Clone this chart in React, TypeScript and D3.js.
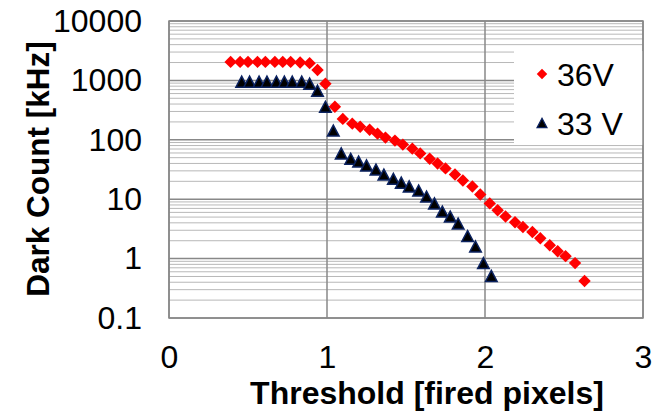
import React, { useEffect, useRef } from 'react';
import * as d3 from 'd3';

// 36V series
const thr36 = [0.39, 0.45, 0.50, 0.56, 0.61, 0.67, 0.72, 0.77, 0.83, 0.89, 0.94, 0.99, 1.05, 1.10, 1.16, 1.21, 1.27, 1.32, 1.37, 1.43, 1.48, 1.54, 1.59, 1.65, 1.70, 1.75, 1.81, 1.86, 1.92, 1.97, 2.03, 2.08, 2.13, 2.19, 2.24, 2.30, 2.35, 2.41, 2.46, 2.51, 2.57, 2.63];
const dc36 = [2050, 2050, 2050, 2050, 2050, 2050, 2050, 2050, 2000, 1950, 1500, 880, 360, 225, 187, 166, 148, 127, 109, 97, 83, 71, 59, 48, 40, 33, 26, 20.7, 16.4, 12, 8.5, 6.5, 5.1, 4.1, 3.4, 2.8, 2.2, 1.68, 1.33, 1.1, 0.84, 0.42];

// 33 V series
const thr33 = [0.46, 0.51, 0.57, 0.62, 0.68, 0.73, 0.78, 0.84, 0.89, 0.94, 0.99, 1.04, 1.09, 1.15, 1.20, 1.25, 1.31, 1.36, 1.42, 1.47, 1.52, 1.58, 1.63, 1.68, 1.73, 1.78, 1.83, 1.89, 1.94, 1.99, 2.04];
const dc33 = [950, 950, 950, 950, 950, 950, 950, 950, 880, 670, 360, 143, 59, 48, 43, 37, 31.6, 26, 22, 19, 16.4, 14, 11.1, 8.5, 6.2, 5.1, 3.9, 2.4, 1.6, 0.84, 0.51];

const xTicks = [0, 1, 2, 3];
const yTicks = [0.1, 1, 10, 100, 1000, 10000];
const seriesNames = ['36V', '33 V'];

const FONT = "'Liberation Sans', Arial, sans-serif";
const FS = 32;
const diamond = 'M0,-6.2L6.2,0L0,6.2L-6.2,0Z';
const triangle = 'M0,-5.5L5.8,5.5L-5.8,5.5Z';

const App: React.FC = () => {
  const svgRef = useRef<SVGSVGElement>(null);
  const width = 657;
  const height = 412;

  useEffect(() => {
    document.body.style.margin = '0';
    if (!svgRef.current) return;
    const svg = d3.select(svgRef.current);
    svg.selectAll('*').remove();

    const margin = { top: 21, right: 14, bottom: 94, left: 169 };

    const x = d3.scaleLinear()
      .domain([0, 3])
      .range([margin.left, width - margin.right]);

    const y = d3.scaleLog()
      .domain([0.1, 10000])
      .range([height - margin.bottom, margin.top]);

    svg.append('rect').attr('width', width).attr('height', height).attr('fill', 'white');

    // minor grid
    const minor: number[] = [];
    for (let e = -1; e < 4; e++) for (let k = 2; k <= 9; k++) minor.push(k * Math.pow(10, e));
    svg.append('g').selectAll('line').data(minor).join('line')
      .attr('x1', margin.left).attr('x2', width - margin.right)
      .attr('y1', d => y(d)).attr('y2', d => y(d))
      .attr('stroke', '#b8b8b8').attr('stroke-width', 1);

    // major grid
    svg.append('g').selectAll('line').data(yTicks).join('line')
      .attr('x1', margin.left).attr('x2', width - margin.right)
      .attr('y1', d => y(d)).attr('y2', d => y(d))
      .attr('stroke', '#888').attr('stroke-width', 1.5);
    svg.append('g').selectAll('line').data(xTicks).join('line')
      .attr('x1', d => x(d)).attr('x2', d => x(d))
      .attr('y1', margin.top).attr('y2', height - margin.bottom)
      .attr('stroke', '#888').attr('stroke-width', 1.5);

    // axes
    const xAxis = d3.axisBottom(x).tickValues(xTicks).tickFormat(d => String(d)).tickSize(0).tickPadding(27);
    const yAxis = d3.axisLeft(y).tickValues(yTicks).tickFormat(d => String(d)).tickSize(0).tickPadding(27);

    const gx = svg.append('g')
      .attr('transform', `translate(0,${height - margin.bottom})`)
      .call(xAxis);
    gx.select('.domain').remove();
    gx.selectAll('text').attr('font-size', FS).attr('font-family', FONT).attr('fill', '#000');

    const gy = svg.append('g')
      .attr('transform', `translate(${margin.left},0)`)
      .call(yAxis);
    gy.select('.domain').remove();
    gy.selectAll('text').attr('font-size', FS).attr('font-family', FONT).attr('fill', '#000');

    svg.append('text')
      .attr('x', 427).attr('y', 404)
      .attr('text-anchor', 'middle')
      .attr('font-family', FONT).attr('font-weight', 'bold').attr('font-size', FS)
      .text('Threshold [fired pixels]');

    svg.append('text')
      .attr('transform', `translate(49,169) rotate(-90)`)
      .attr('text-anchor', 'middle')
      .attr('font-family', FONT).attr('font-weight', 'bold').attr('font-size', 31.5)
      .text('Dark Count [kHz]');

    // points
    svg.append('g').selectAll('path').data(d3.range(thr36.length)).join('path')
      .attr('d', diamond)
      .attr('transform', i => `translate(${x(thr36[i])},${y(dc36[i])})`)
      .attr('fill', '#ff0000');

    svg.append('g').selectAll('path').data(d3.range(thr33.length)).join('path')
      .attr('d', triangle)
      .attr('transform', i => `translate(${x(thr33[i])},${y(dc33[i])})`)
      .attr('fill', '#000').attr('stroke', '#0b2260').attr('stroke-width', 1.5);

    // legend
    const legend = svg.append('g');
    legend.append('rect').attr('x', 514).attr('y', 51).attr('width', 129).attr('height', 94).attr('fill', 'white');
    legend.append('path').attr('d', diamond).attr('transform', 'translate(542,74) scale(0.85)').attr('fill', '#ff0000');
    legend.append('text').attr('x', 557).attr('y', 86).attr('font-family', FONT).attr('font-size', FS).text(seriesNames[0]);
    legend.append('path').attr('d', triangle).attr('transform', 'translate(542,123) scale(0.85)')
      .attr('fill', '#000').attr('stroke', '#0b2260').attr('stroke-width', 1.5);
    legend.append('text').attr('x', 557).attr('y', 135).attr('font-family', FONT).attr('font-size', FS).text(seriesNames[1]);

    // border
    svg.append('rect')
      .attr('x', margin.left).attr('y', margin.top)
      .attr('width', width - margin.right - margin.left).attr('height', height - margin.bottom - margin.top)
      .attr('fill', 'none').attr('stroke', '#888').attr('stroke-width', 1.5);
  }, []);

  return <svg ref={svgRef} width={width} height={height} style={{ display: 'block' }} />;
};

export default App;
